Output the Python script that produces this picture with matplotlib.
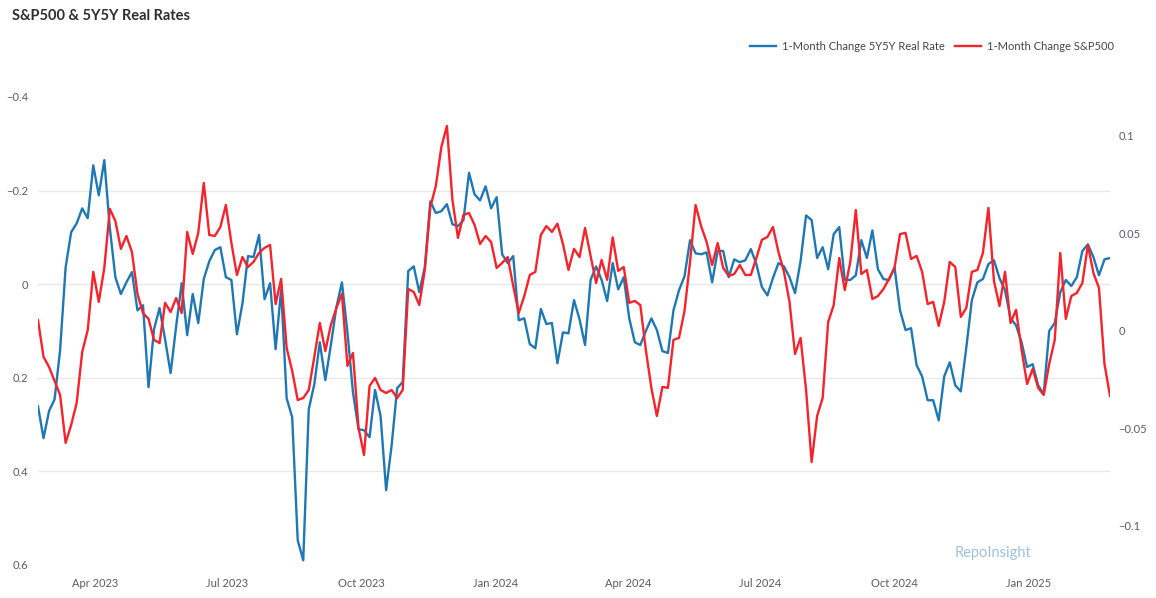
import matplotlib
matplotlib.use("Agg")
import matplotlib.pyplot as plt
import pandas as pd

plt.rcParams['font.family'] = ['Lato', 'DejaVu Sans']

title = "S&P500 & 5Y5Y Real Rates"
blue_label = "1-Month Change 5Y5Y Real Rate"
red_label = "1-Month Change S&P500"
watermark = "RepoInsight"

start_date = "2023-02-21"
end_date = "2025-02-26"

real_rate_chg = [
    0.261, 0.329, 0.271, 0.246, 0.141, -0.036, -0.111, -0.130, -0.162, -0.141,
    -0.254, -0.190, -0.265, -0.120, -0.015, 0.021, -0.004, -0.026, 0.056, 0.045,
    0.220, 0.096, 0.051, 0.118, 0.190, 0.090, -0.002, 0.109, 0.021, 0.083,
    -0.011, -0.049, -0.073, -0.079, -0.015, -0.009, 0.107, 0.041, -0.060, -0.058,
    -0.105, 0.032, -0.002, 0.139, 0.011, 0.244, 0.284, 0.547, 0.590, 0.267,
    0.214, 0.124, 0.205, 0.130, 0.049, -0.004, 0.103, 0.231, 0.310, 0.312,
    0.327, 0.226, 0.282, 0.440, 0.344, 0.222, 0.209, -0.028, -0.038, 0.017,
    -0.036, -0.177, -0.152, -0.156, -0.171, -0.128, -0.124, -0.137, -0.238, -0.192,
    -0.179, -0.209, -0.162, -0.186, -0.064, -0.045, -0.060, 0.077, 0.073, 0.128,
    0.137, 0.053, 0.085, 0.083, 0.169, 0.103, 0.105, 0.034, 0.075, 0.130,
    -0.009, -0.038, -0.009, 0.036, -0.045, 0.011, -0.015, 0.073, 0.124, 0.130,
    0.100, 0.073, 0.098, 0.143, 0.147, 0.056, 0.013, -0.017, -0.094, -0.066,
    -0.064, -0.068, -0.004, -0.071, -0.071, -0.015, -0.053, -0.047, -0.051, -0.075,
    -0.043, 0.006, 0.024, -0.013, -0.045, -0.038, -0.015, 0.019, -0.049, -0.147,
    -0.137, -0.056, -0.079, -0.032, -0.107, -0.122, -0.009, -0.009, -0.019, -0.094,
    -0.056, -0.115, -0.032, -0.011, -0.009, -0.036, 0.056, 0.098, 0.094, 0.173,
    0.197, 0.248, 0.248, 0.291, 0.197, 0.167, 0.216, 0.229, 0.135, 0.034,
    -0.004, -0.011, -0.043, -0.051, -0.013, 0.013, 0.073, 0.088, 0.124, 0.177,
    0.171, 0.216, 0.235, 0.100, 0.083, 0.017, -0.009, 0.004, -0.015, -0.071,
    -0.085, -0.058, -0.019, -0.053, -0.056,
]

spx_chg = [
    0.0056, -0.0133, -0.0185, -0.0256, -0.0328, -0.0574, -0.0482, -0.0369, -0.0108, 0.0005,
    0.0303, 0.0149, 0.0323, 0.0626, 0.0564, 0.0421, 0.0487, 0.0405, 0.0190, 0.0092,
    0.0062, -0.0046, -0.0062, 0.0144, 0.0097, 0.0169, 0.0092, 0.0508, 0.0395, 0.0503,
    0.0759, 0.0492, 0.0487, 0.0533, 0.0646, 0.0451, 0.0287, 0.0379, 0.0328, 0.0354,
    0.0400, 0.0426, 0.0441, 0.0138, 0.0267, -0.0087, -0.0205, -0.0354, -0.0344, -0.0303,
    -0.0133, 0.0041, -0.0103, 0.0031, 0.0118, 0.0190, -0.0179, -0.0113, -0.0497, -0.0636,
    -0.0282, -0.0241, -0.0303, -0.0318, -0.0303, -0.0344, -0.0303, 0.0215, 0.0200, 0.0133,
    0.0313, 0.0636, 0.0744, 0.0944, 0.1051, 0.0672, 0.0477, 0.0595, 0.0605, 0.0544,
    0.0446, 0.0487, 0.0456, 0.0323, 0.0349, 0.0379, 0.0231, 0.0092, 0.0179, 0.0287,
    0.0303, 0.0492, 0.0538, 0.0508, 0.0550, 0.0446, 0.0313, 0.0421, 0.0379, 0.0528,
    0.0385, 0.0246, 0.0364, 0.0262, 0.0480, 0.0308, 0.0328, 0.0144, 0.0154, 0.0133,
    -0.0097, -0.0292, -0.0436, -0.0287, -0.0292, -0.0046, -0.0036, 0.0103, 0.0354, 0.0646,
    0.0538, 0.0456, 0.0338, 0.0451, 0.0323, 0.0282, 0.0292, 0.0338, 0.0287, 0.0287,
    0.0374, 0.0467, 0.0482, 0.0533, 0.0405, 0.0303, 0.0149, -0.0118, -0.0036, -0.0303,
    -0.0672, -0.0436, -0.0344, 0.0046, 0.0133, 0.0374, 0.0210, 0.0354, 0.0620, 0.0292,
    0.0313, 0.0164, 0.0179, 0.0215, 0.0267, 0.0323, 0.0497, 0.0503, 0.0369, 0.0385,
    0.0303, 0.0138, 0.0149, 0.0026, 0.0149, 0.0354, 0.0328, 0.0072, 0.0118, 0.0303,
    0.0313, 0.0400, 0.0631, 0.0256, 0.0128, 0.0303, 0.0041, 0.0108, -0.0097, -0.0272,
    -0.0195, -0.0292, -0.0328, -0.0169, -0.0046, 0.0400, 0.0062, 0.0179, 0.0195, 0.0246,
    0.0441, 0.0297, 0.0221, -0.0169, -0.0333,
]

left_ticks = [-0.4, -0.2, 0, 0.2, 0.4, 0.6]
left_tick_labels = ["\u22120.4", "\u22120.2", "0", "0.2", "0.4", "0.6"]
right_ticks = [-0.1, -0.05, 0, 0.05, 0.1]
right_tick_labels = ["\u22120.1", "\u22120.05", "0", "0.05", "0.1"]
x_ticks = ["2023-04-01", "2023-07-01", "2023-10-01", "2024-01-01",
           "2024-04-01", "2024-07-01", "2024-10-01", "2025-01-01"]

dates = pd.date_range(start_date, end_date, periods=len(real_rate_chg))

W, H = 1156, 598
fig = plt.figure(figsize=(W / 100, H / 100), dpi=100)
ax = fig.add_axes([38 / W, 1 - 570 / H, (1110 - 38) / W, 490 / H])
ax2 = ax.twinx()

BLUE = "#1f77b4"
RED = "#f5232b"
TICK_C = "#5a5a66"

l1, = ax.plot(dates, real_rate_chg, color=BLUE, lw=1.7, label=blue_label)
l2, = ax2.plot(dates, spx_chg, color=RED, lw=1.7, label=red_label)

ax.set_xlim(dates[0], dates[-1])
ax.set_ylim(0.6107, -0.4363)
ax2.set_ylim(-0.1226, 0.1287)

ax.set_yticks(left_ticks)
ax.set_yticklabels(left_tick_labels)
ax2.set_yticks(right_ticks)
ax2.set_yticklabels(right_tick_labels)

xt = pd.to_datetime(x_ticks)
ax.set_xticks(xt)
ax.set_xticklabels([d.strftime("%b %Y") for d in xt])

for a in (ax, ax2):
    for s in a.spines.values():
        s.set_visible(False)
    a.tick_params(length=0, labelsize=8, labelcolor=TICK_C)
ax.tick_params(axis='y', pad=7)
ax.tick_params(axis='x', pad=6)
ax2.tick_params(axis='y', pad=6)

ax.grid(axis='y', color='#e8e8e8', lw=1)
ax.grid(axis='x', visible=False)
gl = ax.get_ygridlines()
gl[0].set_visible(False)
gl[-1].set_visible(False)
ax.set_axisbelow(True)

fig.text(12 / W, 1 - 16 / H, title, fontsize=10.5, fontweight='bold',
         ha='left', va='center', color='#2e2e2e')

fig.legend([l1, l2], [blue_label, red_label], loc='center right',
           bbox_to_anchor=(1124 / W, 1 - 46.5 / H), ncol=2, frameon=False,
           fontsize=8, handlelength=2.4, handletextpad=0.5, columnspacing=0.9,
           labelcolor='#444444')

fig.text(993 / W, 1 - 553 / H, watermark, fontsize=10.5, ha='center',
         va='center', color='#9dc1dd')

fig.savefig("out.png", dpi=100)
